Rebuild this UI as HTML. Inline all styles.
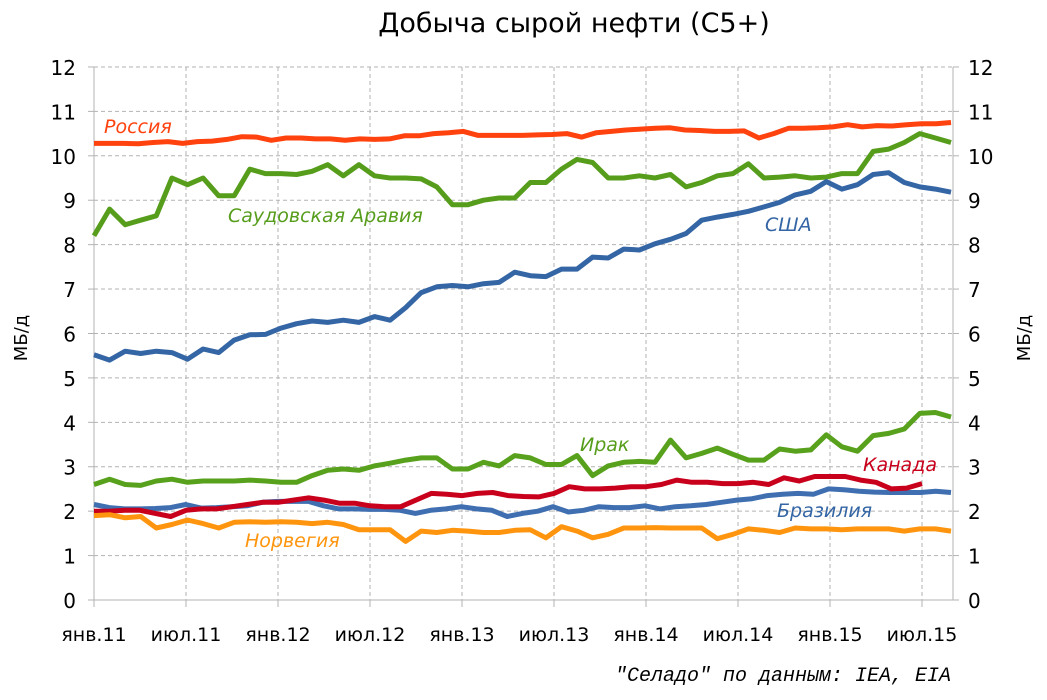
<!DOCTYPE html>
<html><head><meta charset="utf-8"><style>
body{margin:0;background:#fff;}
svg text{font-family:"DejaVu Sans","Liberation Sans",sans-serif;}
svg text.mono{font-family:"Liberation Mono","DejaVu Sans Mono",monospace;}
</style></head><body>
<svg id="c" width="1047" height="695" xmlns="http://www.w3.org/2000/svg">
<text x="574" y="32" font-size="27" text-anchor="middle" fill="#000">Добыча сырой нефти (С5+)</text>
<g id="grid"></g>
<g id="lines" fill="none" stroke-width="5" stroke-linejoin="round"></g>
<text x="104" y="133" font-size="19" fill="#ff420e" font-style="italic">Россия</text>
<text x="228" y="222" font-size="19" fill="#579d1c" font-style="italic">Саудовская Аравия</text>
<text x="765" y="231" font-size="19" fill="#3465a4" font-style="italic">США</text>
<text x="580" y="451" font-size="19" fill="#579d1c" font-style="italic">Ирак</text>
<text x="863" y="471" font-size="19" fill="#c9001c" font-style="italic">Канада</text>
<text x="777" y="517" font-size="19" fill="#3465a4" font-style="italic">Бразилия</text>
<text x="245" y="547" font-size="19" fill="#ff950e" font-style="italic">Норвегия</text>
<text transform="translate(27,338) rotate(-90)" font-size="18" text-anchor="middle">МБ/д</text>
<text transform="translate(1030,338) rotate(-90)" font-size="18" text-anchor="middle">МБ/д</text>
<text class="mono" x="951" y="681" font-size="20" text-anchor="end" font-style="italic">"Селадо" по данным: IEA, EIA</text>
</svg>
<script>
var NS="http://www.w3.org/2000/svg";
var g=document.getElementById('grid'),L=document.getElementById('lines');
function el(p,t,a,txt){var e=document.createElementNS(NS,t);for(var k in a)e.setAttribute(k,a[k]);if(txt!=null)e.textContent=txt;p.appendChild(e);return e;}
var X0=94,X1=953,Y0=600,U=44.42,DX=15.333;
function Y(v){return Y0-v*U;}
for(var v=0;v<=12;v++){var y=Y(v);
 if(v>0)el(g,'line',{x1:X0,x2:X1,y1:y,y2:y,stroke:'#b3b3b3','stroke-dasharray':'4,3'});
 el(g,'line',{x1:X0-6,x2:X0,y1:y,y2:y,stroke:'#b3b3b3'});
 el(g,'line',{x1:X1,x2:X1+6,y1:y,y2:y,stroke:'#b3b3b3'});
 el(g,'text',{x:76,y:y+8,'font-size':20,'text-anchor':'end'},v);
 el(g,'text',{x:968,y:y+8,'font-size':20},v);}
var labs=['янв.11','июл.11','янв.12','июл.12','янв.13','июл.13','янв.14','июл.14','янв.15','июл.15'];
for(var i=0;i<10;i++){var x=X0+i*92;
 if(i>0)el(g,'line',{x1:x,x2:x,y1:Y(12),y2:Y0,stroke:'#b3b3b3','stroke-dasharray':'4,3'});
 el(g,'line',{x1:x,x2:x,y1:Y0,y2:Y0+7,stroke:'#b3b3b3'});
 el(g,'text',{x:x,y:641,'font-size':19,'text-anchor':'middle'},labs[i]);}
el(g,'line',{x1:X0,x2:X0,y1:Y(12),y2:Y0,stroke:'#b3b3b3'});
el(g,'line',{x1:X1,x2:X1,y1:Y(12),y2:Y0,stroke:'#b3b3b3'});
el(g,'line',{x1:X0,x2:X1,y1:Y0,y2:Y0,stroke:'#b3b3b3'});
var S=[
['#ff420e',[10.28,10.28,10.28,10.27,10.3,10.32,10.28,10.32,10.33,10.37,10.43,10.42,10.35,10.4,10.4,10.38,10.38,10.35,10.38,10.37,10.38,10.45,10.45,10.5,10.52,10.55,10.46,10.46,10.46,10.46,10.47,10.48,10.5,10.42,10.52,10.55,10.58,10.6,10.62,10.63,10.58,10.57,10.55,10.55,10.56,10.4,10.5,10.62,10.62,10.63,10.65,10.7,10.65,10.68,10.67,10.7,10.72,10.72,10.75]],
['#579d1c',[8.2,8.8,8.45,8.55,8.65,9.5,9.35,9.5,9.1,9.1,9.7,9.6,9.6,9.58,9.65,9.8,9.55,9.8,9.55,9.5,9.5,9.48,9.3,8.9,8.9,9.0,9.05,9.05,9.4,9.4,9.7,9.92,9.85,9.5,9.5,9.55,9.5,9.58,9.3,9.4,9.55,9.6,9.82,9.5,9.52,9.55,9.5,9.52,9.6,9.6,10.1,10.15,10.3,10.5,10.4,10.3]],
['#3465a4',[5.52,5.4,5.6,5.55,5.6,5.57,5.42,5.65,5.57,5.85,5.97,5.98,6.12,6.22,6.28,6.25,6.3,6.25,6.38,6.3,6.58,6.92,7.05,7.08,7.05,7.12,7.15,7.38,7.3,7.28,7.45,7.45,7.72,7.7,7.9,7.88,8.02,8.12,8.25,8.55,8.62,8.68,8.75,8.85,8.95,9.12,9.2,9.42,9.25,9.35,9.58,9.62,9.4,9.3,9.25,9.18]],
['#58a11c',[2.6,2.72,2.6,2.58,2.68,2.72,2.65,2.68,2.68,2.68,2.7,2.68,2.65,2.65,2.8,2.92,2.95,2.92,3.02,3.08,3.15,3.2,3.2,2.95,2.95,3.1,3.02,3.25,3.2,3.05,3.05,3.25,2.8,3.02,3.1,3.12,3.1,3.6,3.2,3.3,3.42,3.28,3.15,3.15,3.4,3.35,3.38,3.72,3.45,3.35,3.7,3.75,3.85,4.2,4.22,4.12]],
['#3f6fb0',[2.15,2.08,2.05,2.05,2.06,2.08,2.15,2.07,2.08,2.1,2.12,2.2,2.22,2.22,2.22,2.12,2.05,2.05,2.04,2.04,2.02,1.95,2.02,2.05,2.1,2.05,2.02,1.88,1.95,2.0,2.1,1.98,2.02,2.1,2.08,2.08,2.12,2.05,2.1,2.12,2.15,2.2,2.25,2.28,2.35,2.38,2.4,2.38,2.5,2.48,2.45,2.43,2.42,2.42,2.42,2.45,2.42]],
['#c9001c',[2.0,2.0,2.02,2.02,1.95,1.88,2.02,2.05,2.05,2.1,2.15,2.2,2.2,2.25,2.3,2.25,2.18,2.18,2.12,2.1,2.1,2.25,2.4,2.38,2.35,2.4,2.42,2.35,2.33,2.32,2.4,2.55,2.5,2.5,2.52,2.55,2.55,2.6,2.7,2.65,2.65,2.62,2.62,2.65,2.6,2.75,2.68,2.78,2.78,2.78,2.7,2.65,2.5,2.52,2.62]],
['#ff950e',[1.9,1.92,1.85,1.88,1.62,1.7,1.8,1.72,1.62,1.75,1.76,1.75,1.76,1.75,1.72,1.75,1.7,1.58,1.58,1.58,1.32,1.55,1.52,1.57,1.55,1.52,1.52,1.57,1.58,1.4,1.65,1.55,1.4,1.48,1.62,1.62,1.63,1.62,1.62,1.62,1.38,1.48,1.6,1.57,1.52,1.62,1.6,1.6,1.58,1.6,1.6,1.6,1.55,1.6,1.6,1.55]]
];
S.forEach(function(s){var d=s[1],n=d.length,dx=(s[0]=='#c9001c')?DX:(951-94)/(n-1);
 var pts=d.map(function(v,i){return (X0+i*dx).toFixed(1)+','+Y(v).toFixed(1)}).join(' ');
 el(L,'polyline',{points:pts,stroke:s[0]});});
</script>
</body></html>
